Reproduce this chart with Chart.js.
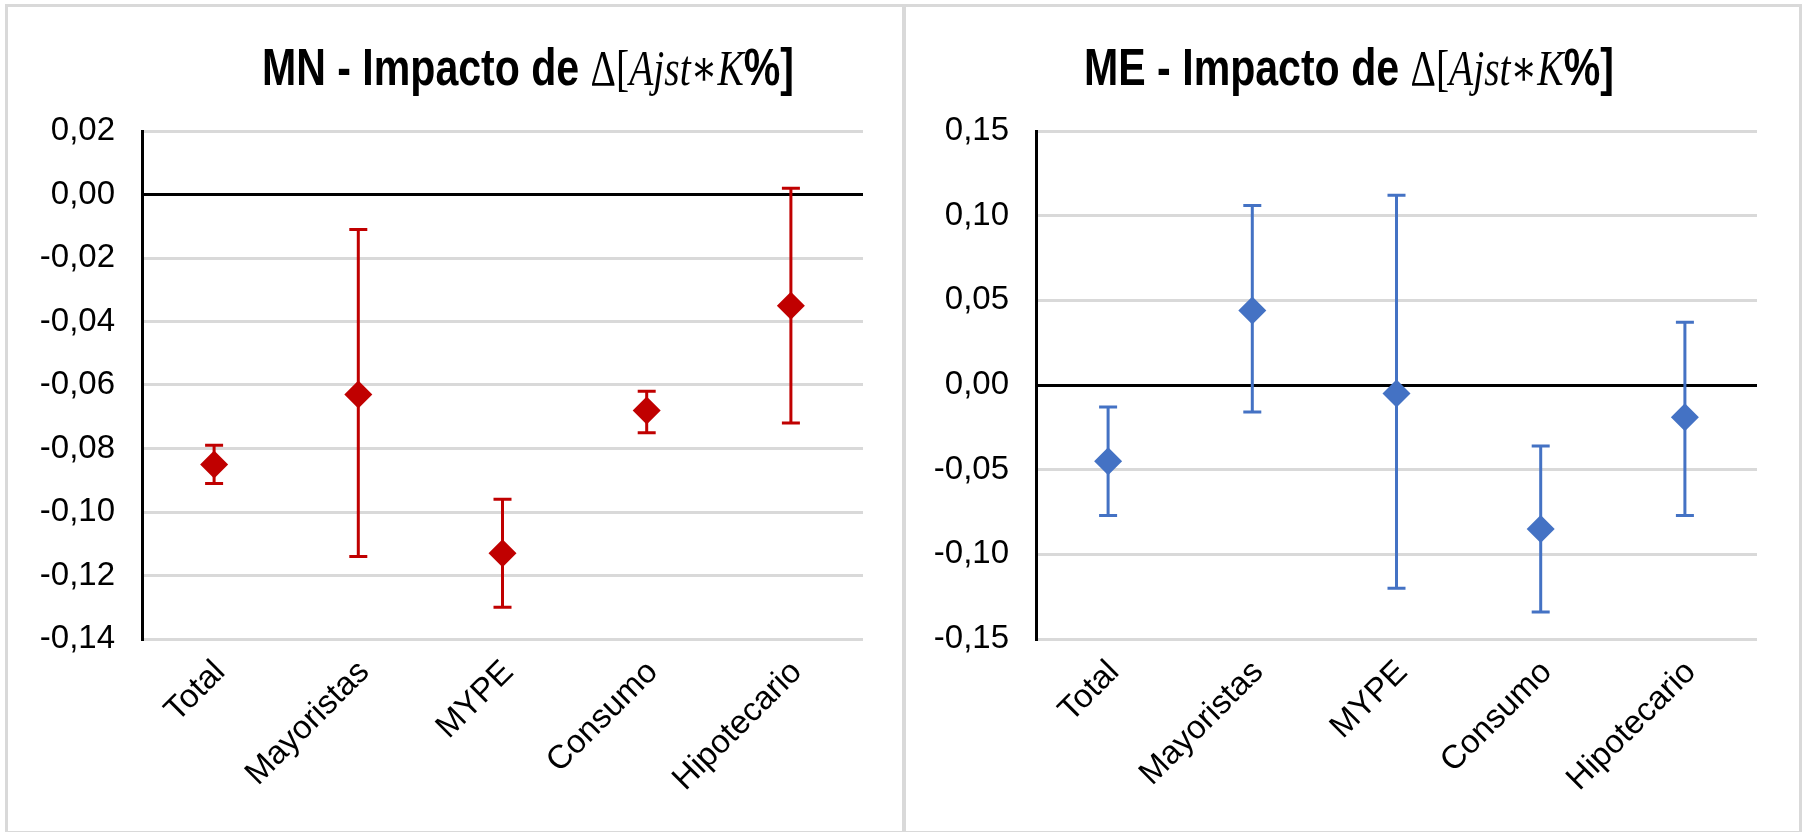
<!DOCTYPE html>
<html>
<head>
<meta charset="utf-8">
<script src="https://cdn.jsdelivr.net/npm/chart.js@4.4.1/dist/chart.umd.min.js"></script>
<style>
    html, body { margin: 0; padding: 0; background: #fff; }
    body { width: 1805px; height: 832px; position: relative; overflow: hidden; }
    .panel { position: absolute; top: 4px; height: 830px; border: 3px solid #d9d9d9; box-sizing: border-box; }
    canvas { position: absolute; top: 0; }
    .title {
        position: absolute; top: 36px; white-space: nowrap; z-index: 2;
        transform: translateX(-50%) scaleX(0.79);
        font-family: 'Liberation Sans', Arial, sans-serif; font-weight: bold; font-size: 52px; color: #000;
        line-height: 62px;
    }
    .title .m { font-family: 'Liberation Serif', 'DejaVu Serif', serif; font-weight: normal; font-size: 50px; }
    .title i.m { font-style: italic; }
</style>
</head>
<body>
<div class="panel" style="left:5px; width:901px;"></div>
<div class="panel" style="left:902px; width:900px;"></div>
<canvas id="mnChart" width="904" height="832" style="left:0"></canvas>
<canvas id="meChart" width="901" height="832" style="left:904px"></canvas>
<div class="title" style="left:528px">MN - Impacto de <span class="m">Δ[</span><i class="m">Ajst∗K</i>%]</div>
<div class="title" style="left:1349px">ME - Impacto de <span class="m">Δ[</span><i class="m">Ajst∗K</i>%]</div>
<script>
const categories = ['Total', 'Mayoristas', 'MYPE', 'Consumo', 'Hipotecario'];

// MN (moneda nacional)
const mnImpact = [-0.085, -0.063, -0.113, -0.068, -0.035];
const mnLower = [-0.091, -0.114, -0.130, -0.075, -0.072];
const mnUpper = [-0.079, -0.011, -0.096, -0.062, 0.002];
const mnTicks = [-0.14, -0.12, -0.10, -0.08, -0.06, -0.04, -0.02, 0.00, 0.02];

// ME (moneda extranjera)
const meImpact = [-0.045, 0.044, -0.005, -0.085, -0.019];
const meLower = [-0.077, -0.016, -0.120, -0.134, -0.077];
const meUpper = [-0.013, 0.106, 0.112, -0.036, 0.037];
const meTicks = [-0.15, -0.10, -0.05, 0.00, 0.05, 0.10, 0.15];

const tickFont = { size: 33, family: "'Liberation Sans', Arial, sans-serif" };

const errorBars = {
    id: 'errorBars',
    beforeDatasetsDraw(chart, args, opts) {
        const { ctx } = chart;
        const x = chart.scales.x, y = chart.scales.y;
        ctx.save();
        ctx.strokeStyle = opts.color;
        ctx.lineWidth = 3;
        chart.data.labels.forEach((lab, i) => {
            const px = x.getPixelForValue(i);
            const top = y.getPixelForValue(opts.upper[i]);
            const bot = y.getPixelForValue(opts.lower[i]);
            ctx.beginPath();
            ctx.moveTo(px, top); ctx.lineTo(px, bot);
            ctx.moveTo(px - 9, top); ctx.lineTo(px + 9, top);
            ctx.moveTo(px - 9, bot); ctx.lineTo(px + 9, bot);
            ctx.stroke();
        });
        ctx.restore();
    }
};

function makeChart(id, values, lower, upper, ticks, color, yWidth, padRight) {
    const step = ticks[1] - ticks[0];
    new Chart(document.getElementById(id), {
        type: 'line',
        data: {
            labels: categories,
            datasets: [{
                data: values,
                showLine: false,
                pointStyle: 'rectRot',
                pointRadius: 14,
                pointHoverRadius: 14,
                pointBorderWidth: 0,
                backgroundColor: color,
                borderColor: color
            }]
        },
        options: {
            responsive: false,
            animation: false,
            layout: { padding: { top: 131, right: padRight, bottom: 0, left: 0 } },
            scales: {
                x: {
                    offset: true,
                    grid: { display: false },
                    border: { display: false },
                    ticks: {
                        autoSkip: false, minRotation: 45, maxRotation: 45,
                        color: '#000', font: tickFont, padding: 6, labelOffset: 6
                    },
                    afterFit: (scale) => { scale.height = 832 - 639; }
                },
                y: {
                    min: ticks[0],
                    max: ticks[ticks.length - 1],
                    grid: {
                        drawTicks: false,
                        lineWidth: 3,
                        color: (c) => Math.abs(c.tick.value) < 1e-9 ? '#000' : '#d9d9d9'
                    },
                    border: { display: true, color: '#000', width: 3 },
                    ticks: {
                        stepSize: step,
                        padding: 27,
                        color: '#000',
                        font: tickFont,
                        callback: (v) => (Math.abs(v) < 1e-9 ? 0 : v).toFixed(2).replace('.', ',')
                    },
                    afterFit: (scale) => { scale.width = yWidth; }
                }
            },
            plugins: {
                legend: { display: false },
                tooltip: { enabled: false },
                errorBars: { lower: lower, upper: upper, color: color }
            }
        },
        plugins: [errorBars]
    });
}

makeChart('mnChart', mnImpact, mnLower, mnUpper, mnTicks, '#C00000', 142, 41);
makeChart('meChart', meImpact, meLower, meUpper, meTicks, '#4472C4', 132, 48);
</script>
</body>
</html>
